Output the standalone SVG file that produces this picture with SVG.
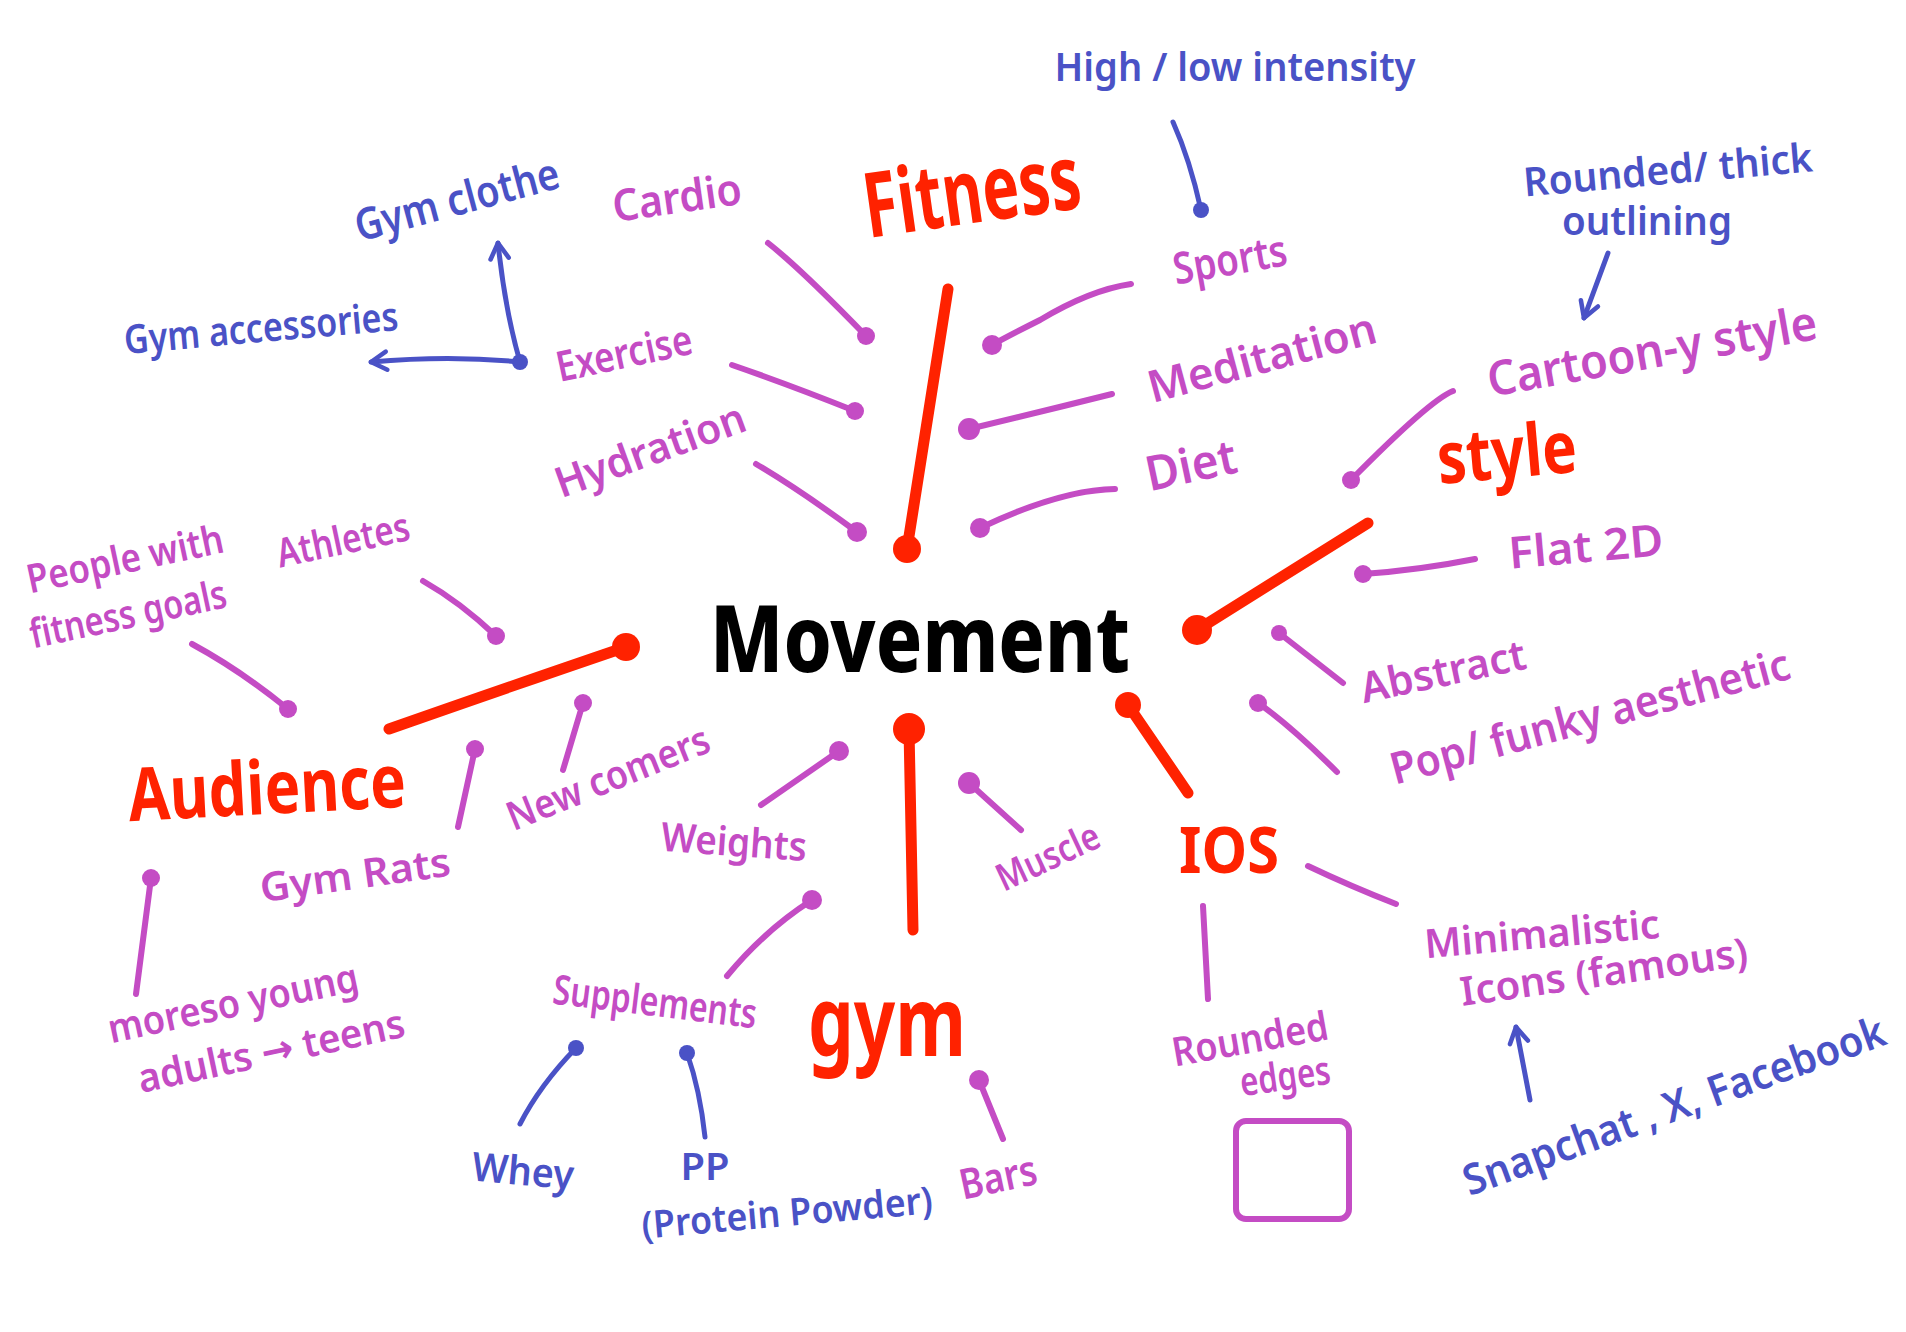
<svg xmlns="http://www.w3.org/2000/svg" width="1906" height="1332" viewBox="0 0 1906 1332">
<style>
text{font-family:"Noto Sans","DejaVu Sans",sans-serif;text-anchor:middle}
.r{fill:#ff2200;font-weight:700}
.m{fill:#c44cc4;font-weight:600}
.b{fill:#4a52c6;font-weight:600}
.k{fill:#000;font-weight:800}
.lr{stroke:#ff2200;stroke-width:11;fill:none;stroke-linecap:round}
.lm{stroke:#c44cc4;stroke-width:6;fill:none;stroke-linecap:round}
.lb{stroke:#4a52c6;stroke-width:5;fill:none;stroke-linecap:round;stroke-linejoin:round}
.dr{fill:#ff2200}
.dm{fill:#c44cc4}
.db{fill:#4a52c6}
</style>
<defs>
<marker id="ab" viewBox="0 0 20 20" refX="17" refY="10" markerWidth="26" markerHeight="26" markerUnits="userSpaceOnUse" orient="auto">
<path d="M5,3 L17,10 L5,17" fill="none" stroke="#4a52c6" stroke-width="3.5" stroke-linecap="round" stroke-linejoin="round"/>
</marker>
</defs>
<rect width="1906" height="1332" fill="#fff"/>

<g id="connectors">
<path class="lr" d="M948,289 L907,549"/><circle class="dr" cx="907" cy="549" r="14"/>
<path class="lr" d="M1368,523 L1197,630"/><circle class="dr" cx="1197" cy="630" r="15"/>
<path class="lr" d="M389,729 Q500,690 626,647"/><circle class="dr" cx="626" cy="647" r="14"/>
<path class="lr" d="M909,729 L913,930"/><circle class="dr" cx="909" cy="729" r="16"/>
<path class="lr" d="M1128,705 L1188,793"/><circle class="dr" cx="1128" cy="705" r="13"/>

<path class="lm" d="M768,243 Q800,268 866,336"/><circle class="dm" cx="866" cy="336" r="9"/>
<path class="lm" d="M732,365 Q790,385 855,411"/><circle class="dm" cx="855" cy="411" r="9"/>
<path class="lm" d="M756,464 Q800,490 857,532"/><circle class="dm" cx="857" cy="532" r="10"/>
<path class="lm" d="M1131,284 Q1090,290 1040,320 Q1010,335 992,345"/><circle class="dm" cx="992" cy="345" r="10"/>
<path class="lm" d="M1112,394 Q1040,412 969,429"/><circle class="dm" cx="969" cy="429" r="11"/>
<path class="lm" d="M1115,489 Q1060,490 980,528"/><circle class="dm" cx="980" cy="528" r="10"/>
<path class="lm" d="M1453,391 Q1430,400 1351,480"/><circle class="dm" cx="1351" cy="480" r="9"/>
<path class="lm" d="M1475,559 Q1420,570 1363,574"/><circle class="dm" cx="1363" cy="574" r="9"/>
<path class="lm" d="M1279,633 L1343,683"/><circle class="dm" cx="1279" cy="633" r="8"/>
<path class="lm" d="M1258,703 Q1290,725 1337,772"/><circle class="dm" cx="1258" cy="703" r="9"/>
<path class="lm" d="M192,644 Q240,670 288,709"/><circle class="dm" cx="288" cy="709" r="9"/>
<path class="lm" d="M423,581 Q460,602 496,636"/><circle class="dm" cx="496" cy="636" r="9"/>
<path class="lm" d="M583,703 L563,770"/><circle class="dm" cx="583" cy="703" r="9"/>
<path class="lm" d="M475,749 L458,827"/><circle class="dm" cx="475" cy="749" r="9"/>
<path class="lm" d="M151,878 L136,994"/><circle class="dm" cx="151" cy="878" r="9"/>
<path class="lm" d="M839,751 L761,805"/><circle class="dm" cx="839" cy="751" r="10"/>
<path class="lm" d="M969,783 L1021,830"/><circle class="dm" cx="969" cy="783" r="11"/>
<path class="lm" d="M727,976 Q765,930 812,900"/><circle class="dm" cx="812" cy="900" r="10"/>
<path class="lm" d="M979,1080 L1003,1139"/><circle class="dm" cx="979" cy="1080" r="10"/>
<path class="lm" d="M1203,906 L1208,999"/>
<path class="lm" d="M1308,866 Q1350,886 1396,904"/>

<path class="lb" d="M1173,122 Q1190,160 1201,210"/><circle class="db" cx="1201" cy="210" r="8"/>
<circle class="db" cx="520" cy="362" r="8"/>
<path class="lb" d="M520,362 Q505,310 498,243" marker-end="url(#ab)"/>
<path class="lb" d="M520,362 Q450,355 371,362" marker-end="url(#ab)"/>
<path class="lb" d="M1608,253 L1584,318" marker-end="url(#ab)"/>
<path class="lb" d="M576,1048 Q540,1085 520,1124"/><circle class="db" cx="576" cy="1048" r="8"/>
<path class="lb" d="M687,1053 Q700,1090 705,1137"/><circle class="db" cx="687" cy="1053" r="8"/>
<path class="lb" d="M1530,1100 L1516,1027" marker-end="url(#ab)"/>
</g>

<g id="movement"><text class="k" x="920" y="672" font-size="92" textLength="420" lengthAdjust="spacingAndGlyphs">Movement</text></g>

<g id="fitness"><text class="r" transform="translate(972,193) rotate(-8)" y="30" font-size="90" textLength="218" lengthAdjust="spacingAndGlyphs">Fitness</text></g>
<g id="style"><text class="r" transform="translate(1507,456) rotate(-5)" y="22" font-size="72" textLength="140" lengthAdjust="spacingAndGlyphs">style</text></g>
<g id="audience"><text class="r" transform="translate(267,790) rotate(-3)" y="24" font-size="74" textLength="278" lengthAdjust="spacingAndGlyphs">Audience</text></g>
<g id="gym"><text class="r" x="887" y="1056" font-size="96" textLength="158" lengthAdjust="spacingAndGlyphs">gym</text></g>
<g id="ios"><text class="r" x="1229" y="873" font-size="64" textLength="100" lengthAdjust="spacingAndGlyphs">IOS</text></g>

<g id="cardio"><text class="m" transform="translate(677,198) rotate(-8)" y="15" font-size="44" textLength="130" lengthAdjust="spacingAndGlyphs">Cardio</text></g>
<g id="exercise"><text class="m" transform="translate(624,353) rotate(-12)" y="15" font-size="42" textLength="138" lengthAdjust="spacingAndGlyphs">Exercise</text></g>
<g id="hydration"><text class="m" transform="translate(650,450) rotate(-20)" y="15" font-size="42" textLength="200" lengthAdjust="spacingAndGlyphs">Hydration</text></g>
<g id="sports"><text class="m" transform="translate(1230,260) rotate(-10)" y="15" font-size="44" textLength="115" lengthAdjust="spacingAndGlyphs">Sports</text></g>
<g id="meditation"><text class="m" transform="translate(1262,358) rotate(-15)" y="15" font-size="44" textLength="235" lengthAdjust="spacingAndGlyphs">Meditation</text></g>
<g id="diet"><text class="m" transform="translate(1191,465) rotate(-12)" y="17" font-size="48" textLength="92" lengthAdjust="spacingAndGlyphs">Diet</text></g>
<g id="high-low"><text class="b" transform="translate(1235,67)" y="14" font-size="40" textLength="361" lengthAdjust="spacingAndGlyphs">High / low intensity</text></g>
<g id="gym-clothe"><text class="b" transform="translate(457,200) rotate(-15)" y="15" font-size="44" textLength="210" lengthAdjust="spacingAndGlyphs">Gym clothe</text></g>
<g id="gym-accessories"><text class="b" transform="translate(261,328) rotate(-5)" y="14" font-size="40" textLength="275" lengthAdjust="spacingAndGlyphs">Gym accessories</text></g>

<g id="cartoon"><text class="m" transform="translate(1652,351) rotate(-10)" y="17" font-size="48" textLength="334" lengthAdjust="spacingAndGlyphs">Cartoon-y  style</text></g>
<g id="flat2d"><text class="m" transform="translate(1586,547) rotate(-5)" y="15" font-size="44" textLength="155" lengthAdjust="spacingAndGlyphs">Flat 2D</text></g>
<g id="abstract"><text class="m" transform="translate(1443,671) rotate(-12)" y="15" font-size="42" textLength="168" lengthAdjust="spacingAndGlyphs">Abstract</text></g>
<g id="pop"><text class="m" transform="translate(1590,717) rotate(-15)" y="15" font-size="44" textLength="412" lengthAdjust="spacingAndGlyphs">Pop/ funky  aesthetic</text></g>
<g id="rounded-thick"><text class="b" transform="translate(1668,170) rotate(-5)" y="14" font-size="40" textLength="290" lengthAdjust="spacingAndGlyphs">Rounded/ thick</text><text class="b" x="1647" y="235" font-size="40" textLength="170" lengthAdjust="spacingAndGlyphs">outlining</text></g>

<g id="people"><text class="m" transform="translate(125,559) rotate(-12)" y="14" font-size="40" textLength="200" lengthAdjust="spacingAndGlyphs">People with</text><text class="m" transform="translate(128,614) rotate(-12)" y="14" font-size="40" textLength="200" lengthAdjust="spacingAndGlyphs">fitness goals</text></g>
<g id="athletes"><text class="m" transform="translate(343,540) rotate(-12)" y="14" font-size="40" textLength="135" lengthAdjust="spacingAndGlyphs">Athletes</text></g>
<g id="newcomers"><text class="m" transform="translate(608,778) rotate(-22)" y="14" font-size="40" textLength="215" lengthAdjust="spacingAndGlyphs">New comers</text></g>
<g id="gym-rats"><text class="m" transform="translate(355,875) rotate(-8)" y="14" font-size="40" textLength="192" lengthAdjust="spacingAndGlyphs">Gym Rats</text></g>
<g id="moreso"><text class="m" transform="translate(233,1003) rotate(-12)" y="14" font-size="40" textLength="255" lengthAdjust="spacingAndGlyphs">moreso  young</text><text class="m" transform="translate(271,1051) rotate(-12)" y="14" font-size="40" textLength="272" lengthAdjust="spacingAndGlyphs">adults → teens</text></g>

<g id="weights"><text class="m" transform="translate(734,842) rotate(4)" y="14" font-size="40" textLength="146" lengthAdjust="spacingAndGlyphs">Weights</text></g>
<g id="muscle"><text class="m" transform="translate(1048,857) rotate(-25)" y="13" font-size="38" textLength="110" lengthAdjust="spacingAndGlyphs">Muscle</text></g>
<g id="supplements"><text class="m" transform="translate(655,1002) rotate(7)" y="14" font-size="41" textLength="205" lengthAdjust="spacingAndGlyphs">Supplements</text></g>
<g id="bars"><text class="m" transform="translate(998,1177) rotate(-12)" y="15" font-size="42" textLength="78" lengthAdjust="spacingAndGlyphs">Bars</text></g>
<g id="whey"><text class="b" transform="translate(523,1171) rotate(5)" y="14" font-size="40" textLength="102" lengthAdjust="spacingAndGlyphs">Whey</text></g>
<g id="pp"><text class="b" x="705" y="1180" font-size="38" textLength="49" lengthAdjust="spacingAndGlyphs">PP</text><text class="b" transform="translate(787,1213) rotate(-5)" y="13" font-size="38" textLength="292" lengthAdjust="spacingAndGlyphs">(Protein  Powder)</text></g>

<g id="rounded-edges"><text class="m" transform="translate(1250,1039) rotate(-10)" y="14" font-size="40" textLength="158" lengthAdjust="spacingAndGlyphs">Rounded</text><text class="m" transform="translate(1285,1076) rotate(-8)" y="14" font-size="40" textLength="91" lengthAdjust="spacingAndGlyphs">edges</text><rect x="1236" y="1121" width="113" height="98" rx="10" fill="none" stroke="#c44cc4" stroke-width="6"/></g>
<g id="minimalistic"><text class="m" transform="translate(1542,934) rotate(-5)" y="14" font-size="40" textLength="236" lengthAdjust="spacingAndGlyphs">Minimalistic</text><text class="m" transform="translate(1604,972) rotate(-8)" y="14" font-size="40" textLength="290" lengthAdjust="spacingAndGlyphs">Icons  (famous)</text></g>
<g id="snapchat"><text class="b" transform="translate(1674,1106) rotate(-20) scale(1,1.15)" y="13" font-size="37" textLength="446" lengthAdjust="spacingAndGlyphs">Snapchat , X, Facebook</text></g>
</svg>
